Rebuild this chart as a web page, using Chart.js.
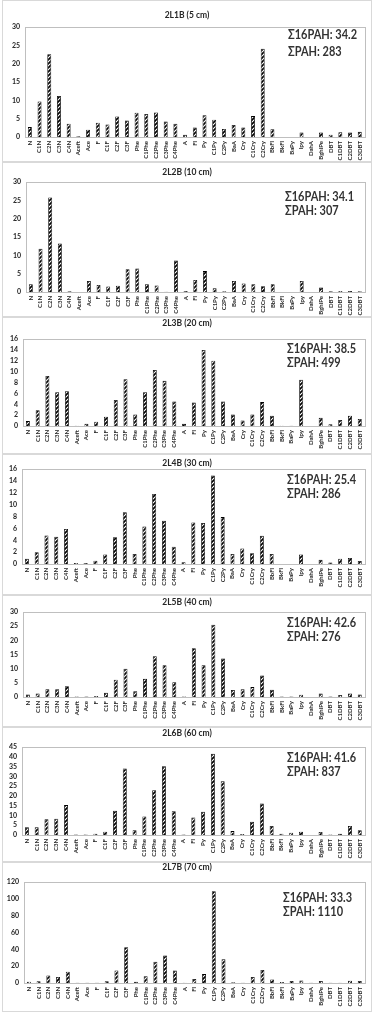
<!DOCTYPE html>
<html>
<head>
<meta charset="utf-8">
<script src="https://cdn.jsdelivr.net/npm/chart.js@4.4.1/dist/chart.umd.min.js"></script>
<style>
  body{margin:0;background:#fff;width:376px;height:1015px;position:relative;overflow:hidden}
  .panel{position:absolute;left:2px;width:370px;border:1px solid #d9d9d9;box-sizing:border-box;background:#fff}
  .panel canvas{display:block}
</style>
</head>
<body>
<script>
// categories (x axis)
const categories = ['N','C1N','C2N','C3N','C4N','Aceft','Ace','F','C1F','C2F','C3F','Phe','C1Phe','C2Phe','C3Phe','C4Phe','A','Fl','Py','C1Py','C2Py','BaA','Cry','C1Cry','C2Cry','BbFl','BkFl','BaPy','Ipy','DahA','BghiPe','DBT','C1DBT','C2DBT','C3DBT'];

// values
const v2L1B = [2.7,9.7,22.6,11.2,3.6,0.2,2.0,3.9,3.4,5.6,4.5,6.6,6.3,6.7,4.2,3.6,0.6,2.6,5.9,4.7,2.2,3.3,2.6,5.7,24.1,2.1,0,0,1.2,0,1.2,0.6,1.3,1.2,1.4];
const v2L2B = [2.1,11.8,25.8,13.2,0.2,0,3.0,1.9,1.5,1.7,6.2,6.4,2.1,1.8,0.1,8.6,0.3,3.3,5.7,1.0,0.2,3.0,2.3,2.1,1.6,2.1,0,0,3.0,0,1.2,0.2,0.3,0.3,0.2];
const v2L3B = [0.9,2.9,9.2,6.2,6.4,0.05,0.4,0.8,1.7,4.8,8.6,2.1,6.2,10.3,8.3,4.5,0.4,4.3,14.0,12.0,4.5,2.1,1.0,2.1,4.4,1.9,0.05,0.05,8.5,0,1.5,0.3,1.1,1.9,1.3];
const v2L4B = [0.9,2.0,4.8,4.6,5.9,0.15,0.15,0.55,1.6,4.5,8.7,1.7,6.3,11.8,7.3,2.9,0.3,7.0,6.9,14.9,7.9,1.7,2.6,1.8,4.75,1.7,0,0,1.6,0,0.7,0.25,0.9,1.0,0.5];
const v2L5B = [0.9,1.2,2.7,2.7,3.8,0.2,0.2,0.35,1.5,6.1,10.0,2.0,6.4,14.4,11.2,5.2,0.2,17.2,11.2,25.5,13.6,2.5,2.7,3.5,7.6,2.6,0.2,0.2,0.8,0,1.2,0.2,0.7,1.2,0.9];
const v2L6B = [3.9,3.9,8.0,8.3,15.3,0.2,0.2,0.7,1.7,12.4,34.0,2.4,9.5,22.9,35.1,12.2,0.2,9.0,11.9,41.6,27.5,2.0,0.5,6.8,16.1,4.6,0.7,1.2,1.7,0,1.5,0.2,0.7,4.6,2.4];
const v2L7B = [1.6,2.0,9.0,7.1,13.4,0.2,0.2,0.2,2.0,15.0,42.5,1.6,7.9,25.2,32.7,15.0,0.4,4.7,10.6,109,28.3,0.8,0.4,7.1,15.4,4.3,1.2,2.4,3.1,0.3,2.4,0.2,0.4,2.8,2.4];

const panelTitles = ['2L1B (5 cm)','2L2B (10 cm)','2L3B (20 cm)','2L4B (30 cm)','2L5B (40 cm)','2L6B (60 cm)','2L7B (70 cm)'];
const sum16PAH = ['34.2','34.1','38.5','25.4','42.6','41.6','33.3'];
const sumPAH = ['283','307','499','286','276','837','1110'];
const yMax = [30,30,16,16,30,45,120];
const yStep = [5,5,2,2,5,5,20];
const seriesList = [v2L1B,v2L2B,v2L3B,v2L4B,v2L5B,v2L6B,v2L7B];

// layout of each panel in page pixels: box top/bottom, plot top/bottom/left, title y, note x, note line y's
const geo = [
  {bt:0,   bb:162,  pt:27,  pb:137, pl:25, ty:15,  nx:288, n1:35,  n2:52},
  {bt:162, bb:317,  pt:182, pb:292, pl:26, ty:172, nx:285, n1:197, n2:211},
  {bt:317, bb:454,  pt:339, pb:426, pl:23, ty:323, nx:287, n1:349, n2:363},
  {bt:454, bb:595,  pt:469, pb:564, pl:22, ty:463, nx:287, n1:480, n2:494},
  {bt:595, bb:727,  pt:612, pb:697, pl:23, ty:602, nx:287, n1:623, n2:637},
  {bt:727, bb:862,  pt:747, pb:835, pl:22, ty:733, nx:287, n1:758, n2:772},
  {bt:862, bb:1012, pt:882, pb:983, pl:24, ty:867, nx:283, n1:898, n2:912}
];
const plotRight = 367;

function hatch(){
  const c = document.createElement('canvas'); c.width = 4; c.height = 4;
  const g = c.getContext('2d');
  g.fillStyle = '#fff'; g.fillRect(0,0,4,4);
  g.strokeStyle = '#000'; g.lineWidth = 1.7;
  g.beginPath();
  g.moveTo(0,4); g.lineTo(4,0);
  g.moveTo(-1,1); g.lineTo(1,-1);
  g.moveTo(3,5); g.lineTo(5,3);
  g.stroke();
  return g.createPattern(c,'repeat');
}

// frame round the plot area, panel title and the sum note
const panelDeco = {
  id:'panelDeco',
  beforeDatasetsDraw(chart){
    const a = chart.chartArea, ctx = chart.ctx;
    ctx.save();
    ctx.strokeStyle = '#bfbfbf'; ctx.lineWidth = 1;
    ctx.strokeRect(Math.round(a.left)+0.5, Math.round(a.top)+0.5, Math.round(a.width), Math.round(a.height));
    ctx.restore();
  },
  afterDraw(chart, args, o){
    const ctx = chart.ctx;
    ctx.save();
    ctx.fillStyle = '#262626';
    ctx.textBaseline = 'middle';
    ctx.textAlign = 'center';
    ctx.font = 'bold 8.5px Lato';
    ctx.fillText(o.title, chart.width/2, o.ty);
    ctx.textAlign = 'left';
    ctx.font = 'bold 13.5px Lato';
    const l1 = '\u03A316PAH: ' + o.s16, l2 = '\u03A3PAH: ' + o.sAll;
    const sx = 69 / ctx.measureText(l1).width;
    ctx.fillStyle = '#333';
    ctx.translate(o.nx, 0);
    ctx.scale(sx, 1);
    ctx.fillText(l1, 0, o.n1);
    ctx.fillText(l2, 0, o.n2);
    ctx.restore();
  }
};

seriesList.forEach((vals, i) => {
  const g = geo[i];
  const div = document.createElement('div');
  div.className = 'panel';
  div.style.top = g.bt + 'px';
  div.style.height = (g.bb - g.bt) + 'px';
  const cv = document.createElement('canvas');
  const W = 368, H = g.bb - g.bt - 2, oy = g.bt + 1, ox = 3;
  cv.width = W; cv.height = H;
  div.appendChild(cv);
  document.body.appendChild(div);

  new Chart(cv.getContext('2d'), {
    type:'bar',
    data:{
      labels:categories,
      datasets:[{data:vals, backgroundColor:hatch(), borderColor:'#000', borderWidth:0.8,
        barPercentage:0.45, categoryPercentage:0.9}]
    },
    options:{
      responsive:false, animation:false, devicePixelRatio:1,
      layout:{padding:{top:g.pt - oy, right:W - (plotRight - ox), left:0, bottom:0}},
      plugins:{
        legend:{display:false}, tooltip:{enabled:false},
        panelDeco:{title:panelTitles[i], s16:sum16PAH[i], sAll:sumPAH[i],
          ty:g.ty - oy, nx:g.nx - ox, n1:g.n1 - oy, n2:g.n2 - oy}
      },
      scales:{
        x:{
          grid:{display:false, drawTicks:false},
          border:{color:'#bfbfbf'},
          ticks:{autoSkip:false, minRotation:90, maxRotation:90,
            font:{family:'Lato', size:6, weight:'bold'}, color:'#262626', padding:4},
          afterFit(s){ s.height = g.bb - g.pb - 1; }
        },
        y:{
          min:0, max:yMax[i],
          grid:{display:false, drawTicks:false},
          border:{color:'#bfbfbf'},
          ticks:{stepSize:yStep[i], autoSkip:false, font:{family:'Lato', size:7, weight:'bold'}, color:'#262626', padding:5},
          afterFit(s){ s.width = g.pl - ox; }
        }
      }
    },
    plugins:[panelDeco]
  });
});
</script>
</body>
</html>
